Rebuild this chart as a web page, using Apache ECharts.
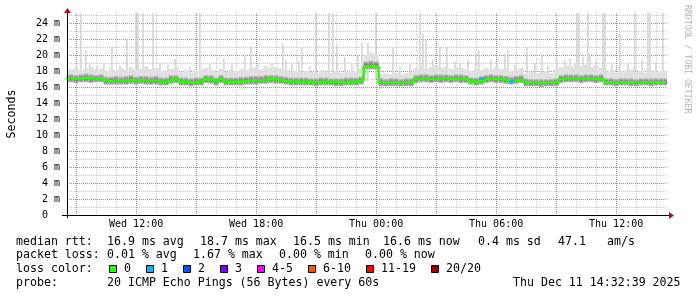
<!DOCTYPE html>
<html lang="en">
<head>
  <meta charset="UTF-8">
  <title>smokeping median rtt</title>
  <script src="https://cdn.jsdelivr.net/npm/echarts@6/dist/echarts.min.js"></script>
  <style>
    html, body { margin: 0; padding: 0; background: #fff; }
    #chart { width: 697px; height: 297px; }
  </style>
</head>
<body>
  <div id="chart"></div>
  <script>
    // time axis in hours since Wed 00:00, one sample every 15 min
    var sampleStart = 8.5;
    var sampleStep = 0.25;
    var axisStart = 8.544;   // Wed 08:32:39
    var axisEnd = 38.544;    // Thu 14:32:39

    // median rtt (ms)
    var median = [
      17.1, 17.1, 17.05, 17.1, 17.15, 17.1, 17.05, 17.1,
      16.8, 16.75, 16.85, 16.8,
      16.85, 16.9, 16.8, 16.9, 16.85, 16.8, 16.85,
      16.65, 16.7,
      16.95, 17.0,
      16.7, 16.65, 16.6, 16.65, 16.7,
      17.0, 16.95,
      16.7, 17.0, 16.7, 16.65, 16.7, 16.7, 16.75,
      16.8, 16.85, 16.85,
      16.95, 17.0, 16.95, 16.9,
      16.75, 16.7, 16.7,
      16.65, 16.7, 16.65, 16.6, 16.65, 16.7, 16.65, 16.65, 16.6, 16.65, 16.65, 16.7,
      16.8,
      18.6, 18.65, 18.6,
      16.6, 16.55, 16.55, 16.6, 16.55, 16.55, 16.6,
      17.0, 17.05, 17.05, 17.0, 17.05, 17.05, 17.1, 17.0, 17.05, 17.05, 17.0,
      16.7, 16.7, 16.75,
      17.0, 17.05, 17.0, 17.0,
      16.9, 16.8, 16.85, 16.95,
      16.6, 16.55, 16.55, 16.5, 16.55, 16.55, 16.6,
      17.0, 17.05, 17.1, 17.05, 17.05, 17.1, 17.05, 17.0, 17.05,
      16.6, 16.6, 16.55, 16.6, 16.6, 16.6, 16.55, 16.6, 16.6, 16.6, 16.6, 16.6, 16.6
    ];

    // smoke: lowest ping, upper dense ping, upper light haze (ms)
    var smokeLo = [
      16.6, 16.6, 16.5, 16.6, 16.6, 16.5, 16.6, 16.6,
      16.3, 16.3, 16.3, 16.3,
      16.3, 16.4, 16.3, 16.4, 16.3, 16.3, 16.3,
      16.2, 16.2,
      16.4, 16.5,
      16.2, 16.2, 16.1, 16.2, 16.2,
      16.5, 16.4,
      16.2, 16.5, 16.2, 16.2, 16.2, 16.2, 16.3,
      16.3, 16.3, 16.4,
      16.4, 16.5, 16.4, 16.4,
      16.3, 16.2, 16.2,
      16.2, 16.2, 16.2, 16.1, 16.2, 16.2, 16.2, 16.1, 16.1, 16.2, 16.2, 16.2,
      16.3,
      18.2, 18.2, 18.2,
      16.1, 16.1, 16.1, 16.1, 16.1, 16.1, 16.1,
      16.5, 16.6, 16.6, 16.5, 16.6, 16.5, 16.6, 16.5, 16.6, 16.5, 16.5,
      16.3, 16.2, 16.3,
      16.5, 16.6, 16.5, 16.5,
      16.4, 16.3, 16.4, 16.5,
      16.1, 16.1, 16.1, 16.0, 16.1, 16.1, 16.1,
      16.5, 16.6, 16.6, 16.6, 16.5, 16.6, 16.6, 16.5, 16.6,
      16.2, 16.2, 16.1, 16.2, 16.2, 16.1, 16.1, 16.2, 16.2, 16.1, 16.2, 16.2, 16.2
    ];
    var smokeHi = [
      17.6, 17.6, 17.5, 17.6, 17.7, 17.6, 17.5, 17.6,
      17.3, 17.3, 17.4, 17.3,
      17.4, 17.5, 17.3, 17.4, 17.4, 17.3, 17.4,
      17.2, 17.2,
      17.5, 17.5,
      17.2, 17.2, 17.1, 17.2, 17.2,
      17.5, 17.5,
      17.2, 17.5, 17.2, 17.2, 17.2, 17.3, 17.3,
      17.4, 17.4, 17.4,
      17.5, 17.5, 17.5, 17.4,
      17.3, 17.2, 17.2,
      17.2, 17.2, 17.1, 17.1, 17.2, 17.2, 17.1, 17.1, 17.1, 17.2, 17.2, 17.2,
      17.3,
      19.2, 19.3, 19.2,
      17.1, 17.0, 17.1, 17.1, 17.0, 17.1, 17.1,
      17.5, 17.6, 17.6, 17.5, 17.6, 17.6, 17.6, 17.5, 17.6, 17.6, 17.5,
      17.2, 17.2, 17.3,
      17.5, 17.6, 17.5, 17.5,
      17.4, 17.3, 17.4, 17.5,
      17.1, 17.0, 17.0, 17.0, 17.0, 17.0, 17.1,
      17.5, 17.6, 17.6, 17.6, 17.5, 17.6, 17.6, 17.5, 17.6,
      17.1, 17.1, 17.0, 17.1, 17.1, 17.1, 17.0, 17.1, 17.1, 17.1, 17.1, 17.1, 17.1
    ];
    var smokeHaze = [
      18.3, 18.2, 18.4, 18.1, 18.3, 18.5, 18.2, 18.3,
      18.0, 18.3, 18.1, 18.4,
      18.2, 18.5, 18.1, 18.3, 18.6, 18.2, 18.4,
      18.0, 17.9,
      18.3, 18.4,
      17.9, 18.1, 17.8, 18.0, 18.2,
      18.4, 18.2,
      17.9, 18.3, 17.9, 18.2, 18.0, 18.3, 18.1,
      18.3, 18.5, 18.2,
      18.6, 18.4, 18.5, 18.3,
      18.1, 17.9, 18.0,
      17.8, 18.0, 17.9, 17.8, 18.1, 17.9, 17.8, 18.0, 17.8, 17.9, 18.1, 18.0,
      18.3,
      20.0, 20.3, 20.1,
      17.6, 17.7, 17.6, 17.8, 17.6, 17.7, 17.8,
      18.4, 18.6, 18.3, 18.5, 18.7, 18.4, 18.6, 18.3, 18.5, 18.4, 18.2,
      18.0, 18.3, 18.1,
      18.4, 18.2, 18.5, 18.3,
      18.3, 18.0, 18.2, 18.4,
      17.7, 17.9, 17.6, 17.8, 18.0, 17.7, 18.2,
      18.5, 18.7, 18.6, 18.9, 18.6, 18.8, 18.5, 18.7, 18.4,
      17.9, 18.1, 17.8, 18.0, 17.9, 18.2, 17.9, 18.0, 17.8, 18.1, 17.9, 18.0, 17.9
    ];

    // single slow pings: [hour, top ms]
    var spikes = [
      [9.24, 25.3], [9.49, 20.6], [9.69, 18.8], [10.04, 18.6], [10.39, 19.0],
      [10.79, 21.1], [11.19, 18.7], [11.54, 22.0], [11.99, 25.3], [12.09, 25.3],
      [12.34, 25.3], [12.84, 25.3], [13.19, 19.0], [13.59, 18.8], [13.94, 19.5],
      [14.69, 18.5], [15.19, 25.3], [15.69, 18.9], [16.39, 19.6], [16.79, 19.0],
      [17.44, 20.1], [17.74, 21.1], [18.09, 19.0], [18.44, 18.7], [18.79, 18.9],
      [19.34, 21.5], [19.49, 19.4], [19.79, 18.8], [20.14, 19.2], [20.29, 21.0],
      [20.69, 18.6], [20.99, 25.3], [21.64, 25.3], [21.84, 25.3], [22.04, 21.2],
      [22.44, 19.7], [22.79, 18.8], [23.09, 20.0], [23.29, 21.5], [23.59, 21.5],
      [23.99, 25.3], [24.84, 21.0], [25.19, 18.6], [25.69, 18.9], [26.19, 25.3],
      [26.34, 22.7], [26.49, 21.9], [26.84, 19.4], [27.19, 21.1], [27.54, 21.0],
      [27.94, 19.2], [28.19, 18.9], [28.59, 19.4], [28.99, 20.2], [29.14, 20.5],
      [29.74, 19.4], [30.04, 19.1], [30.44, 20.2], [30.59, 20.6], [30.94, 18.8],
      [31.54, 21.0], [31.94, 19.0], [32.29, 20.2], [32.59, 18.7], [33.04, 19.5],
      [33.44, 19.3], [33.69, 19.6], [34.04, 25.3], [34.14, 25.3], [34.34, 19.8],
      [34.59, 25.3], [34.69, 20.2], [34.99, 19.2], [35.34, 25.3], [35.44, 25.3],
      [35.79, 18.8], [36.19, 22.8], [36.59, 19.0], [36.94, 25.3], [37.29, 19.4],
      [37.59, 25.3], [37.69, 25.3], [37.99, 19.1], [38.34, 25.3]
    ];

    // samples with packet loss: [hour, ms, lost pings]
    var lossPoints = [[29.29, 17.1, 1], [30.79, 16.7, 1]];

    var xLabelHours = [12, 18, 24, 30, 36];
    var xLabelText = ['Wed 12:00', 'Wed 18:00', 'Thu 00:00', 'Thu 06:00', 'Thu 12:00'];
    var yLabelValues = [0, 2, 4, 6, 8, 10, 12, 14, 16, 18, 20, 22, 24];
    var yLabelText = ['0  ', '2 m', '4 m', '6 m', '8 m', '10 m', '12 m', '14 m', '16 m', '18 m', '20 m', '22 m', '24 m'];

    var rttStats = ['16.9 ms avg', '18.7 ms max', '16.5 ms min', '16.6 ms now', '0.4 ms sd', '47.1', 'am/s'];
    var lossStats = ['0.01 % avg', '1.67 % max', '0.00 % min', '0.00 % now'];
    var lossLabels = ['0', '1', '2', '3', '4-5', '6-10', '11-19', '20/20'];
    var lossColors = ['#26ff00', '#00b8ff', '#0059ff', '#7e00ff', '#ff00ff', '#ff5500', '#ff0000', '#a00000'];
    var probeText = '20 ICMP Echo Pings (56 Bytes) every 60s';
    var stampText = 'Thu Dec 11 14:32:39 2025';

    var mono = '"DejaVu Sans Mono", monospace';
    var majorGrid = '#e07474';
    var minorGrid = '#c8c8c8';
    var spikeBase = 17.0;

    // grid positions: minor every hour / 1 ms, major every 3 h / 2 ms
    var xMinor = [], xMajor = [], yMinor = [];
    for (var h = 9; h <= 38; h++) {
      if (h % 3 === 0) xMajor.push(h); else xMinor.push(h);
    }
    for (var m = 1; m <= 25; m += 2) yMinor.push(m);

    var medianData = median.map(function (v, i) {
      return [sampleStart + i * sampleStep, v];
    });
    var smokeData = median.map(function (v, i) {
      return [sampleStart + i * sampleStep, smokeLo[i], smokeHi[i], smokeHaze[i]];
    });

    function renderSmoke(params, api) {
      var t = api.value(0);
      var lo = api.coord([t - sampleStep / 2, api.value(1)]);
      var hi = api.coord([t + sampleStep / 2, api.value(2)]);
      var hz = api.coord([t + sampleStep / 2, api.value(3)]);
      var w = hi[0] - lo[0];
      return {
        type: 'group',
        children: [{
          type: 'rect',
          shape: { x: lo[0], y: hz[1], width: w, height: lo[1] - hz[1] },
          style: { fill: '#e0e0e0' }
        }, {
          type: 'rect',
          shape: { x: lo[0], y: hi[1], width: w, height: lo[1] - hi[1] },
          style: {
            fill: {
              type: 'linear', x: 0, y: 0, x2: 0, y2: 1,
              colorStops: [
                { offset: 0, color: '#c6c6c6' },
                { offset: 0.5, color: '#6e6e6e' },
                { offset: 1, color: '#b8b8b8' }
              ]
            }
          }
        }]
      };
    }

    function renderSpike(params, api) {
      var top = api.coord([api.value(0), api.value(1)]);
      var bottom = api.coord([api.value(0), spikeBase]);
      return {
        type: 'line',
        shape: { x1: top[0], y1: top[1], x2: bottom[0], y2: bottom[1] },
        style: { stroke: '#d2d2d2', lineWidth: 1.5 }
      };
    }

    // text below the plot
    var legendFont = '11.6px ' + mono;
    var rowY = [241.5, 255.3, 269, 282.7];
    var rttX = [107, 200, 293, 383, 478, 558, 607];
    var lossX = [107, 193, 279, 365];
    function txt(x, y, s) {
      return { type: 'text', x: x, y: y, style: { text: s, font: legendFont, fill: '#000', verticalAlign: 'middle' } };
    }
    var graphics = [];
    graphics.push(txt(16, rowY[0], 'median rtt:'));
    rttStats.forEach(function (s, i) { graphics.push(txt(rttX[i], rowY[0], s)); });
    graphics.push(txt(16, rowY[1], 'packet loss:'));
    lossStats.forEach(function (s, i) { graphics.push(txt(lossX[i], rowY[1], s)); });
    graphics.push(txt(16, rowY[2], 'loss color:'));
    var bx = 109;
    lossLabels.forEach(function (s, i) {
      graphics.push({
        type: 'rect',
        shape: { x: bx + 0.5, y: 265.5, width: 7, height: 7 },
        style: { fill: lossColors[i], stroke: '#000', lineWidth: 1 }
      });
      graphics.push(txt(bx + 15, rowY[2], s));
      bx = bx + 15 + s.length * 7 + 15;
    });
    graphics.push(txt(16, rowY[3], 'probe:'));
    graphics.push(txt(107, rowY[3], probeText));
    graphics.push(txt(513, rowY[3], stampText));

    // rrdtool watermark
    graphics.push({
      type: 'text', x: 687, y: 5, rotation: -Math.PI / 2,
      style: { text: 'RRDTOOL / TOBI OETIKER', font: '8.2px ' + mono, fill: '#b4b4b4', verticalAlign: 'middle' }
    });
    // axis lines and arrows
    graphics.push({ type: 'line', z: 10, shape: { x1: 62, y1: 215.5, x2: 669, y2: 215.5 }, style: { stroke: '#000', lineWidth: 1 } });
    graphics.push({ type: 'line', z: 10, shape: { x1: 67.5, y1: 10, x2: 67.5, y2: 218 }, style: { stroke: '#000', lineWidth: 1 } });
    graphics.push({ type: 'polygon', z: 10, shape: { points: [[64, 13], [71, 13], [67.5, 8]] }, style: { fill: '#a01818' } });
    graphics.push({ type: 'polygon', z: 10, shape: { points: [[669, 212], [669, 219], [674, 215.5]] }, style: { fill: '#a01818' } });

    function gridAxis(min, max, values, color) {
      return {
        type: 'value', min: min, max: max,
        axisLine: { show: false },
        axisLabel: { show: false },
        axisTick: { show: false, customValues: values },
        splitLine: { show: true, lineStyle: { color: color, type: [1, 1], width: 1 } }
      };
    }

    var xMain = {
      type: 'value',
      min: axisStart,
      max: axisEnd,
      axisLine: { show: false },
      axisTick: { show: false, customValues: xMinor },
      axisLabel: {
        customValues: xLabelHours,
        formatter: function (v) { return xLabelText[xLabelHours.indexOf(Math.round(v))]; },
        color: '#000', fontFamily: mono, fontSize: 10, margin: 4
      },
      splitLine: { show: true, lineStyle: { color: minorGrid, type: [1, 1], width: 1 } }
    };
    var yMain = {
      type: 'value',
      min: 0,
      max: 25.25,
      name: 'Seconds',
      nameLocation: 'middle',
      nameRotate: 90,
      nameGap: 49,
      nameTextStyle: { color: '#000', fontFamily: mono, fontSize: 11.6 },
      axisLine: { show: false },
      axisTick: { show: false, customValues: yMinor },
      axisLabel: {
        customValues: yLabelValues,
        formatter: function (v) { return yLabelText[yLabelValues.indexOf(Math.round(v))]; },
        color: '#000', fontFamily: mono, fontSize: 10, margin: 7
      },
      splitLine: { show: true, lineStyle: { color: minorGrid, type: [1, 1], width: 1 } }
    };

    var chart = echarts.init(document.getElementById('chart'), null, { renderer: 'canvas' });
    chart.setOption({
      animation: false,
      backgroundColor: '#fff',
      grid: { left: 67, right: 30, top: 13, bottom: 82, containLabel: false, outerBoundsMode: 'none' },
      xAxis: [xMain, gridAxis(axisStart, axisEnd, xMajor, majorGrid)],
      yAxis: [yMain, gridAxis(0, 25.25, yLabelValues, majorGrid)],
      series: [{
        type: 'custom',
        name: 'spikes',
        renderItem: renderSpike,
        data: spikes,
        clip: true,
        z: 1
      }, {
        type: 'custom',
        name: 'smoke',
        renderItem: renderSmoke,
        data: smokeData,
        clip: true,
        z: 2
      }, {
        type: 'line',
        name: 'median',
        data: medianData,
        step: 'middle',
        showSymbol: false,
        clip: true,
        lineStyle: { color: lossColors[0], width: 2.5 },
        z: 3
      }, {
        type: 'scatter',
        name: 'loss',
        data: lossPoints,
        symbol: 'rect',
        symbolSize: [4, 3],
        itemStyle: { color: function (p) { return lossColors[p.value[2]]; } },
        z: 4
      }],
      graphic: graphics
    });
  </script>
</body>
</html>
